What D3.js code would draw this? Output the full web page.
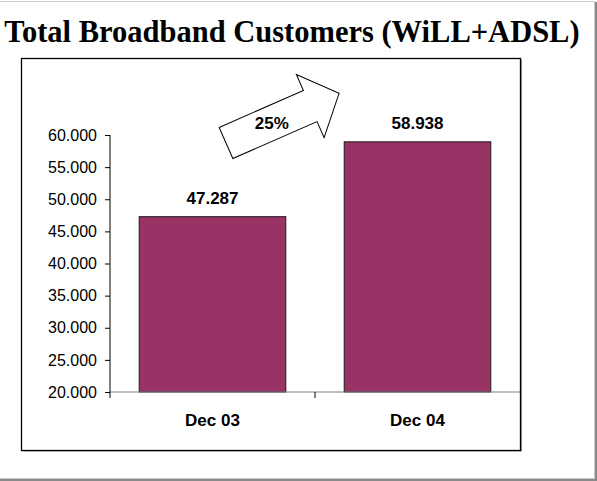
<!DOCTYPE html>
<html>
<head>
<meta charset="utf-8">
<script src="https://cdn.jsdelivr.net/npm/d3@7"></script>
<style>
  body { margin: 0; background: #fff; }
  svg { display: block; }
</style>
</head>
<body>
<svg id="chart" width="597" height="481"></svg>
<script>
// Data
const categories = ['Dec 03', 'Dec 04']
const customers = [47287, 58938]
const yTicks = [20000, 25000, 30000, 35000, 40000, 45000, 50000, 55000, 60000]
const growthLabel = '25%'
const title = 'Total Broadband Customers (WiLL+ADSL)'

const fmt = (v) => (v / 1000).toFixed(3) // 47287 -> 47.287
const fmtTick = (v) => (v / 1000).toFixed(3)

const svg = d3.select('#chart')

// page frame with shadow
svg.append('rect').attr('x', 595).attr('y', 2).attr('width', 2).attr('height', 479).attr('fill', '#8a8a8a')
svg.append('rect').attr('x', 0).attr('y', 479).attr('width', 597).attr('height', 2).attr('fill', '#8a8a8a')
svg.append('path')
  .attr('d', 'M0,1.5 H594.5 V478.5 H0')
  .attr('fill', 'none')
  .attr('stroke', '#c8c8c8')
  .attr('stroke-width', 1)

// title
svg.append('text')
  .attr('x', 292)
  .attr('y', 42)
  .attr('text-anchor', 'middle')
  .style('font-family', '"Liberation Serif", "Times New Roman", serif')
  .style('font-weight', 'bold')
  .style('font-size', '30.5px')
  .text(title)

// chart box
svg.append('rect') // shadow
  .attr('x', 23).attr('y', 59.5).attr('width', 499).attr('height', 392)
  .attr('fill', '#9a9a9a')
svg.append('rect')
  .attr('x', 21.5).attr('y', 58.5).attr('width', 499).attr('height', 392)
  .attr('fill', '#fff')
  .attr('stroke', '#000')
  .attr('stroke-width', 1.3)

const plot = { left: 110, right: 520, top: 135, bottom: 392 }

const x = d3.scaleBand()
  .domain(categories)
  .range([plot.left, plot.right])
  .paddingInner(0.285)
  .paddingOuter(0.1425)

const y = d3.scaleLinear()
  .domain([20000, 60000])
  .range([plot.bottom, plot.top])

// bars
svg.append('g')
  .selectAll('rect')
  .data(customers)
  .join('rect')
  .attr('x', (d, i) => x(categories[i]))
  .attr('y', d => y(d))
  .attr('width', x.bandwidth())
  .attr('height', d => y(20000) - y(d))
  .attr('fill', '#993366')
  .attr('stroke', '#1a1a1a')
  .attr('stroke-width', 1)

// value labels
svg.append('g')
  .selectAll('text')
  .data(customers)
  .join('text')
  .attr('x', (d, i) => x(categories[i]) + x.bandwidth() / 2)
  .attr('y', d => y(d) - 13)
  .attr('text-anchor', 'middle')
  .style('font-family', '"Liberation Sans", Arial, sans-serif')
  .style('font-weight', 'bold')
  .style('font-size', '17px')
  .text(d => fmt(d))

// x axis (gray baseline)
const xAxis = svg.append('g')
  .attr('transform', `translate(0,${plot.bottom})`)
xAxis.append('line')
  .attr('x1', plot.left).attr('x2', plot.right)
  .attr('stroke', '#808080').attr('stroke-width', 1.2)
xAxis.selectAll('line.tick')
  .data([(x(categories[0]) + x.bandwidth() + x(categories[1])) / 2])
  .join('line')
  .attr('class', 'tick')
  .attr('x1', d => d).attr('x2', d => d)
  .attr('y1', 0).attr('y2', 6)
  .attr('stroke', '#000')
xAxis.selectAll('text')
  .data(categories)
  .join('text')
  .attr('x', d => x(d) + x.bandwidth() / 2)
  .attr('y', 34)
  .attr('text-anchor', 'middle')
  .style('font-family', '"Liberation Sans", Arial, sans-serif')
  .style('font-weight', 'bold')
  .style('font-size', '17px')
  .text(d => d)

// y axis
const yAxis = svg.append('g')
  .attr('transform', `translate(${plot.left},0)`)
  .call(d3.axisLeft(y).tickValues(yTicks).tickFormat(fmtTick).tickSize(5).tickPadding(8))
yAxis.select('.domain')
  .attr('d', `M0,${plot.top}V${plot.bottom + 6}`)
  .attr('stroke', '#000')
yAxis.selectAll('text')
  .style('font-family', '"Liberation Sans", Arial, sans-serif')
  .style('font-size', '16px')
  .attr('fill', '#000')

// growth arrow annotation
const arrow = { x: 226, y: 143, angle: -23.7, len: 123.5, head: 31.5, shaft: 17, barb: 34.5 }
const ag = svg.append('g')
  .attr('transform', `translate(${arrow.x},${arrow.y}) rotate(${arrow.angle})`)
const s = arrow.len - arrow.head
ag.append('path')
  .attr('d', d3.line()([
    [0, -arrow.shaft], [s, -arrow.shaft], [s, -arrow.barb], [arrow.len, 0],
    [s, arrow.barb], [s, arrow.shaft], [0, arrow.shaft]
  ]) + 'Z')
  .attr('fill', '#fff')
  .attr('stroke', '#000')
  .attr('stroke-width', 1)
const rad = arrow.angle * Math.PI / 180
svg.append('text')
  .attr('x', arrow.x + 50 * Math.cos(rad))
  .attr('y', arrow.y + 50 * Math.sin(rad) + 6)
  .attr('text-anchor', 'middle')
  .style('font-family', '"Liberation Sans", Arial, sans-serif')
  .style('font-weight', 'bold')
  .style('font-size', '17px')
  .text(growthLabel)
</script>
</body>
</html>
